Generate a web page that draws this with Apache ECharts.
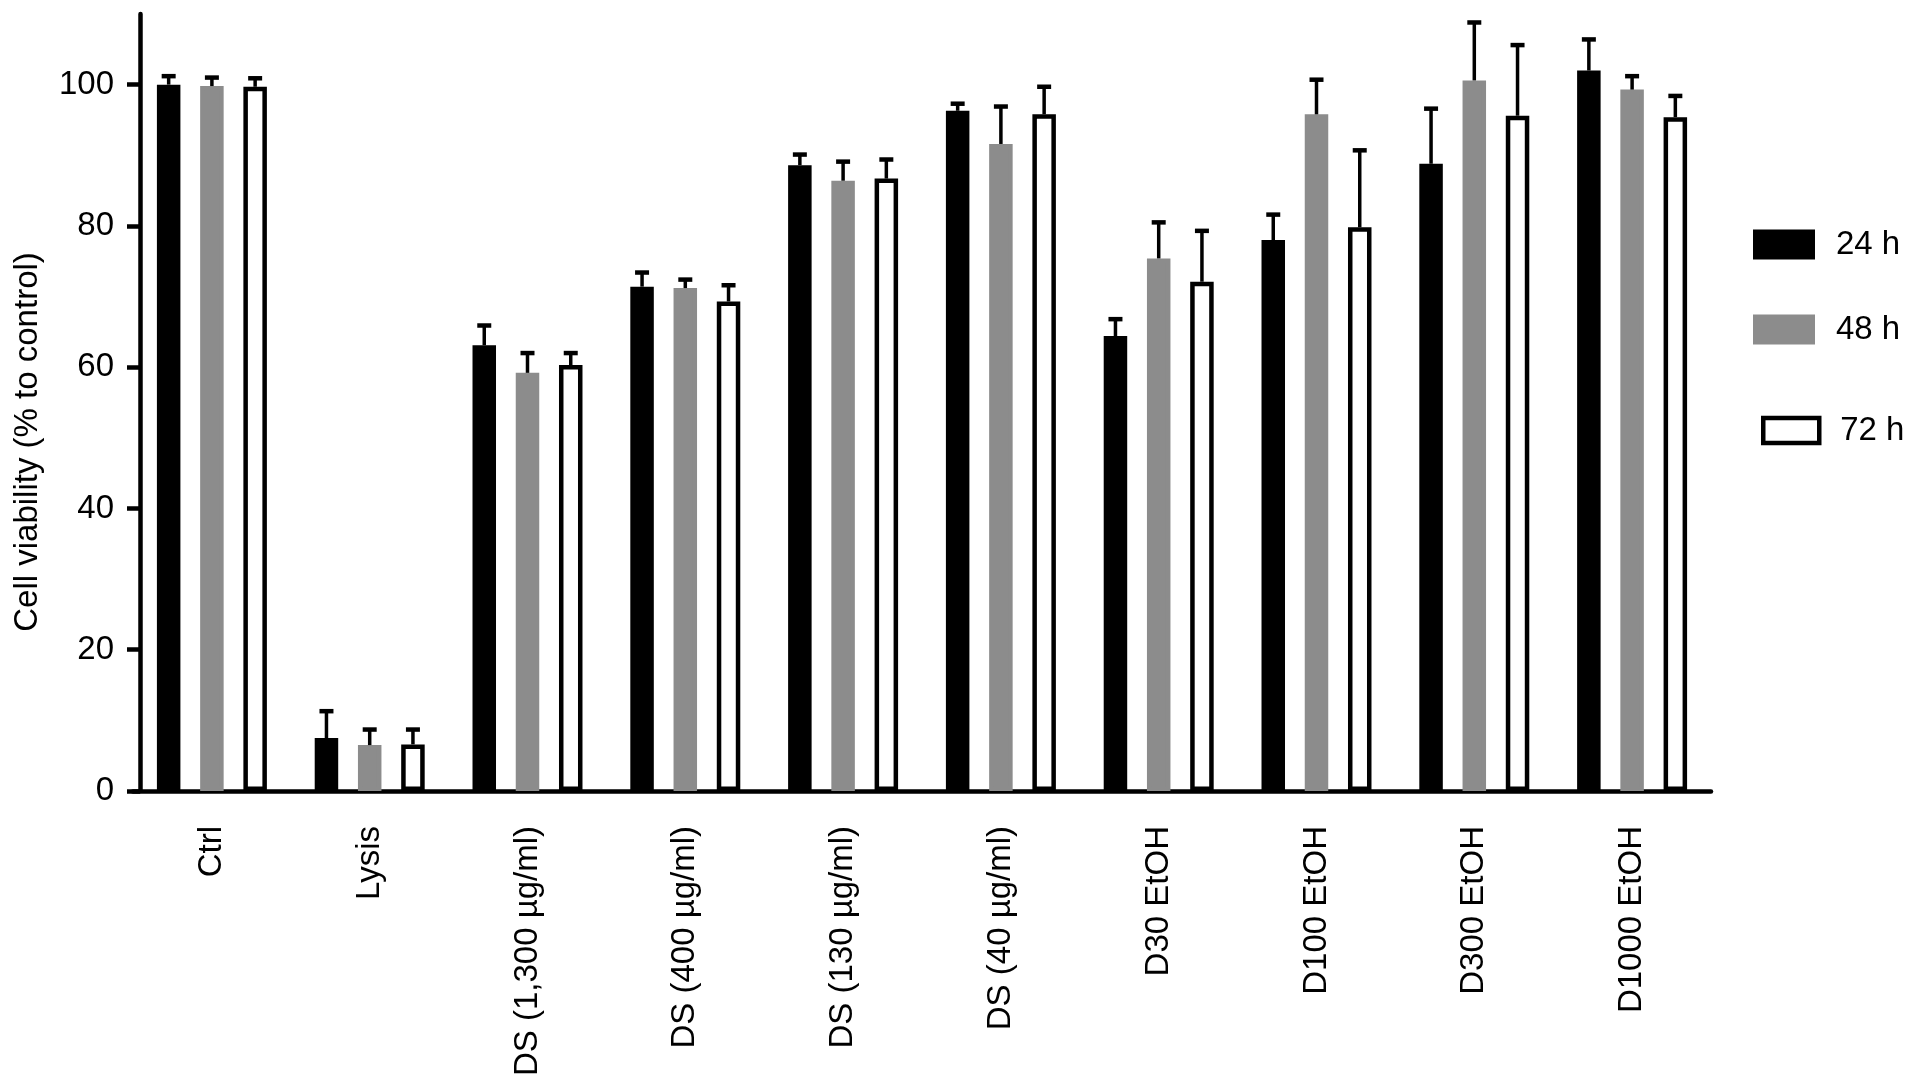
<!DOCTYPE html>
<html>
<head>
<meta charset="utf-8">
<script src="https://cdn.jsdelivr.net/npm/echarts@6/dist/echarts.min.js"></script>
<style>
  html, body { margin: 0; padding: 0; background: #fff; }
  #chart { width: 1913px; height: 1090px; }
</style>
</head>
<body>
<div id="chart"></div>
<script>
// categories on the x axis
const categories = [
  'Ctrl', 'Lysis', 'DS (1,300 µg/ml)', 'DS (400 µg/ml)', 'DS (130 µg/ml)',
  'DS (40 µg/ml)', 'D30 EtOH', 'D100 EtOH', 'D300 EtOH', 'D1000 EtOH'
]
const seriesNames = ['24 h', '48 h', '72 h']

// mean cell viability (% to control) and upper error
const mean24 = [100, 7.5, 63.1, 71.4, 88.6, 96.3, 64.4, 78.0, 88.8, 102.0]
const err24 = [1.2, 3.8, 2.8, 2.0, 1.5, 1.0, 2.4, 3.6, 7.8, 4.4]
const mean48 = [99.8, 6.5, 59.2, 71.2, 86.4, 91.6, 75.4, 95.8, 100.6, 99.3]
const err48 = [1.2, 2.2, 2.8, 1.2, 2.7, 5.3, 5.1, 4.9, 8.2, 1.9]
const mean72 = [99.7, 6.6, 60.3, 69.3, 86.7, 95.8, 72.1, 79.8, 95.6, 95.4]
const err72 = [1.2, 2.1, 1.7, 2.3, 2.7, 3.9, 7.2, 10.9, 10.0, 3.0]

const yTicks = [0, 20, 40, 60, 80, 100]

const FONT = '"Liberation Sans", Arial, Helvetica, sans-serif'
const FONT_SIZE = 33
const BAR_W = 23.5
const BAR_GAP = 0.84
const BAR_STEP = BAR_W * (1 + BAR_GAP)
const BORDER = 4.5

function barSeries(idx, means, fill, border) {
  return {
    type: 'bar',
    name: seriesNames[idx],
    data: means,
    barWidth: BAR_W,
    barGap: Math.round(BAR_GAP * 100) + '%',
    itemStyle: { color: fill, borderColor: border, borderWidth: BORDER },
    z: 2,
  }
}

// upper error bar drawn from the bar top through the axis scale
function errorSeries(idx, means, errs) {
  return {
    type: 'custom',
    name: seriesNames[idx] + ' SD',
    z: 5,
    data: means.map((m, i) => [i, m, errs[i]]),
    encode: { x: 0, y: 1 },
    renderItem(params, api) {
      const i = api.value(0)
      const base = api.coord([i, api.value(1)])
      const top = api.coord([i, api.value(1) + api.value(2)])
      const x = base[0] + (idx - 1) * BAR_STEP
      return {
        type: 'group',
        children: [
          { type: 'line', shape: { x1: x, y1: base[1], x2: x, y2: top[1] },
            style: { stroke: '#000', lineWidth: 3.5 } },
          { type: 'line', shape: { x1: x - 7, y1: top[1], x2: x + 7, y2: top[1] },
            style: { stroke: '#000', lineWidth: 4.5 } },
        ],
      }
    },
  }
}

function legendItem(name, left, top, w, h, style) {
  return {
    data: [name],
    left, top,
    orient: 'vertical',
    padding: 0,
    icon: 'rect',
    itemWidth: w,
    itemHeight: h,
    selectedMode: false,
    itemStyle: style,
    textStyle: { fontSize: FONT_SIZE, lineHeight: 32, fontFamily: FONT, color: '#000', padding: [0, 0, 0, 16] },
  }
}

const chart = echarts.init(document.getElementById('chart'))
chart.setOption({
  animation: false,
  backgroundColor: '#fff',
  textStyle: { fontFamily: FONT, color: '#000' },
  grid: { left: 133, right: 202, top: 14, bottom: 299, containLabel: false },
  legend: [
    legendItem('24 h', 1753, 228, 62, 30, { borderWidth: 0 }),
    legendItem('48 h', 1753, 313, 62, 30, { borderWidth: 0 }),
    legendItem('72 h', 1761, 414, 56, 25, { color: '#fff', borderColor: '#000', borderWidth: BORDER }),
  ],
  graphic: [{
    type: 'text',
    x: 28, y: 442,
    rotation: Math.PI / 2,
    style: {
      text: 'Cell viability (% to control)',
      fontSize: FONT_SIZE, fontFamily: FONT, fill: '#000',
      align: 'center', verticalAlign: 'middle',
    },
  }],
  xAxis: {
    type: 'category',
    data: categories,
    axisLine: { lineStyle: { color: '#000', width: 4.5 } },
    axisTick: { alignWithLabel: true, length: 16, lineStyle: { color: '#000', width: 4.5 } },
    axisLabel: { rotate: 90, interval: 0, margin: 35, fontSize: FONT_SIZE, fontFamily: FONT, color: '#000' },
    splitLine: { show: false },
  },
  yAxis: {
    type: 'value',
    min: 0, max: 110, interval: 20,
    offset: -7,
    axisLine: { show: true, lineStyle: { color: '#000', width: 4.5 } },
    axisTick: { show: true, length: 13, customValues: yTicks, lineStyle: { color: '#000', width: 4.5 } },
    axisLabel: { customValues: yTicks, margin: 26, fontSize: FONT_SIZE, fontFamily: FONT, color: '#000' },
    splitLine: { show: false },
  },
  series: [
    barSeries(0, mean24, '#000', '#000'),
    barSeries(1, mean48, '#8c8c8c', '#8c8c8c'),
    barSeries(2, mean72, '#fff', '#000'),
    errorSeries(0, mean24, err24),
    errorSeries(1, mean48, err48),
    errorSeries(2, mean72, err72),
  ],
})
</script>
</body>
</html>
